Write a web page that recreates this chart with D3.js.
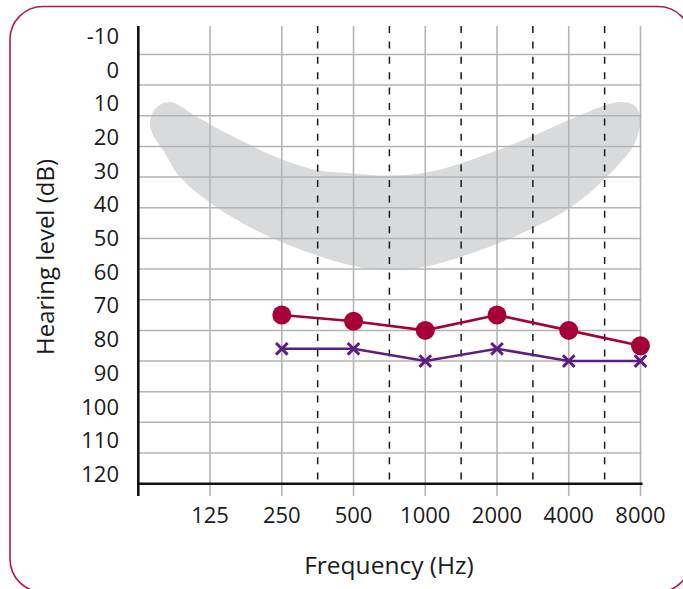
<!DOCTYPE html>
<html>
<head>
<meta charset="utf-8">
<script src="https://cdn.jsdelivr.net/npm/d3@7"></script>
<style>
  body { margin: 0; background: #fff; }
  #chart text { font-family: 'Open Sans', sans-serif; fill: #1a1a1a; }
</style>
</head>
<body>
<div id="chart"></div>
<script>
// audiogram data
const freqs = [250, 500, 1000, 2000, 4000, 8000];
const circleDb = [75, 77, 80, 75, 80, 85];
const crossDb = [86, 86, 90, 86, 90, 90];

const xTickLabels = [125, 250, 500, 1000, 2000, 4000, 8000];
const yTickLabels = [-10, 0, 10, 20, 30, 40, 50, 60, 70, 80, 90, 100, 110, 120];

// speech banana outline, going round clockwise from the left tip
const bananaFreq = [70, 74, 85, 110, 152, 250, 350, 500, 711, 1047, 2196, 4375, 5570, 6563, 7500, 8000,
                    7800, 7444, 5773, 4051, 2268, 1047, 711, 500, 230, 134, 93.5, 79.4, 72];
const bananaDb = [12.4, 7.5, 5.5, 10.3, 16.3, 24.2, 27.7, 28.8, 29.5, 28.3, 20.1, 10.1, 6.8, 5.5, 6.5, 10.4,
                  16, 20, 30, 40, 50, 58.9, 60.3, 59, 50, 40, 30, 21.2, 16.3];

function drawAudiogram(containerId) {
    const width = 683;
    const height = 589;
    const left = 138.3;
    const right = 640.5;
    const top = 26;
    const axisY = 483.7;

    const svg = d3.select('#' + containerId)
        .append('svg')
        .attr('width', width)
        .attr('height', height);

    // frame
    svg.append('rect')
        .attr('x', 10)
        .attr('y', 6.5)
        .attr('width', 681)
        .attr('height', 585.5)
        .attr('rx', 33)
        .attr('fill', 'none')
        .attr('stroke', '#b3184b')
        .attr('stroke-width', 1.6);

    const x = d3.scaleLog()
        .base(2)
        .domain([62.5, 8000])
        .range([left, right]);

    const y = d3.scaleLinear()
        .domain([-10, 130])
        .range([54.4, axisY]);

    // labels sit on their own spacing, not on the grid lines
    const yLabel = d3.scaleLinear()
        .domain([-10, 120])
        .range([36, 474]);

    const banana = d3.line()
        .x(d => x(d[0]))
        .y(d => y(d[1]))
        .curve(d3.curveCatmullRomClosed.alpha(0.5));

    svg.append('path')
        .datum(bananaFreq.map((f, i) => [f, bananaDb[i]]))
        .attr('fill', '#d9dadc')
        .attr('d', banana);

    svg.selectAll('.hgrid')
        .data(yTickLabels)
        .enter()
        .append('line')
        .attr('class', 'hgrid')
        .attr('x1', left)
        .attr('x2', right + 1)
        .attr('y1', d => y(d))
        .attr('y2', d => y(d))
        .style('stroke', '#b4b4b4')
        .style('stroke-width', 1.5);

    svg.selectAll('.vgrid')
        .data(xTickLabels)
        .enter()
        .append('line')
        .attr('class', 'vgrid')
        .attr('x1', d => x(d))
        .attr('x2', d => x(d))
        .attr('y1', top)
        .attr('y2', 496)
        .style('stroke', '#b4b4b4')
        .style('stroke-width', 1.6);

    // half-octave dashed lines between the tested frequencies
    const mids = freqs.slice(1).map((f, i) => Math.sqrt(f * freqs[i]));
    svg.selectAll('.mid')
        .data(mids)
        .enter()
        .append('line')
        .attr('class', 'mid')
        .attr('x1', d => x(d))
        .attr('x2', d => x(d))
        .attr('y1', top)
        .attr('y2', axisY)
        .style('stroke', '#1a1a1a')
        .style('stroke-width', 1.5)
        .style('stroke-dasharray', '7,8.4');

    // axes
    svg.append('line')
        .attr('x1', left)
        .attr('x2', right + 2)
        .attr('y1', axisY)
        .attr('y2', axisY)
        .style('stroke', '#111')
        .style('stroke-width', 2.6);

    svg.append('line')
        .attr('x1', left)
        .attr('x2', left)
        .attr('y1', top)
        .attr('y2', 496)
        .style('stroke', '#111')
        .style('stroke-width', 2.6);

    svg.selectAll('.xlab')
        .data(xTickLabels)
        .enter()
        .append('text')
        .attr('class', 'xlab')
        .attr('x', d => x(d))
        .attr('y', 523)
        .attr('text-anchor', 'middle')
        .style('font-size', '22px')
        .text(d => d);

    svg.selectAll('.ylab')
        .data(yTickLabels)
        .enter()
        .append('text')
        .attr('class', 'ylab')
        .attr('x', 119)
        .attr('y', d => yLabel(d))
        .attr('dy', '0.36em')
        .attr('text-anchor', 'end')
        .style('font-size', '22px')
        .text(d => d);

    svg.append('text')
        .attr('x', 389)
        .attr('y', 574)
        .attr('text-anchor', 'middle')
        .style('font-size', '24.5px')
        .text('Frequency (Hz)');

    svg.append('text')
        .attr('transform', 'rotate(-90)')
        .attr('x', -257)
        .attr('y', 53.5)
        .attr('text-anchor', 'middle')
        .style('font-size', '24px')
        .text('Hearing level (dB)');

    const line = d3.line()
        .x((d, i) => x(freqs[i]))
        .y(d => y(d));

    svg.append('path')
        .datum(crossDb)
        .attr('fill', 'none')
        .attr('stroke', '#5c1f80')
        .attr('stroke-width', 2.6)
        .attr('d', line);

    const cross = d3.symbol().type(d3.symbolX).size(90);
    svg.selectAll('.cross')
        .data(crossDb)
        .enter()
        .append('path')
        .attr('class', 'cross')
        .attr('transform', (d, i) => `translate(${x(freqs[i])},${y(d)})`)
        .attr('d', cross)
        .attr('fill', 'none')
        .attr('stroke', '#5c1f80')
        .attr('stroke-width', 3);

    svg.append('path')
        .datum(circleDb)
        .attr('fill', 'none')
        .attr('stroke', '#a6003a')
        .attr('stroke-width', 2.6)
        .attr('d', line);

    svg.selectAll('.dot')
        .data(circleDb)
        .enter()
        .append('circle')
        .attr('class', 'dot')
        .attr('cx', (d, i) => x(freqs[i]))
        .attr('cy', d => y(d))
        .attr('r', 9.5)
        .attr('fill', '#a6003a');
}

drawAudiogram('chart');
</script>
</body>
</html>
